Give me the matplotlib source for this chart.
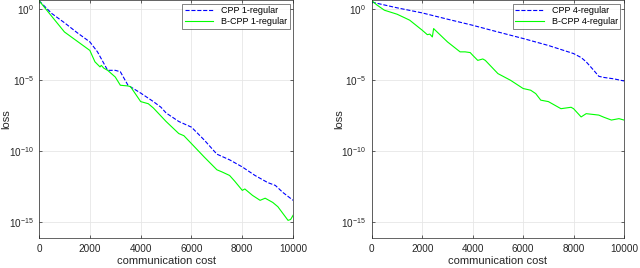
import matplotlib.pyplot as plt
import numpy as np

plt.rcParams['font.family'] = ['Liberation Sans', 'DejaVu Sans']
plt.rcParams['font.size'] = 7
plt.rcParams['mathtext.fontset'] = 'custom'
plt.rcParams['mathtext.rm'] = 'Liberation Sans'
plt.rcParams['mathtext.it'] = 'Liberation Sans'

# left panel: 1-regular (log10 of loss)
cpp1_x = [0, 500, 1000, 1500, 2000, 2300, 2700, 3000, 3200, 3500, 4000, 4500, 4800,
          5000, 5500, 6000, 6500, 7000, 7500, 8000, 8500, 9000, 9300, 9600, 10000]
cpp1_y = [0.6, -0.3, -0.95, -1.65, -2.3, -3.0, -4.3, -4.3, -4.4, -5.35, -5.9, -6.5, -6.9,
          -7.3, -7.9, -8.3, -9.2, -10.2, -10.6, -11.1, -11.7, -12.2, -12.4, -12.9, -13.45]
bcpp1_x = [0, 500, 1000, 1500, 2000, 2200, 2400, 2450, 2550, 2700, 3000, 3200, 3500,
           3600, 4000, 4300, 4500, 5000, 5500, 5700, 6000, 6500, 7000, 7200, 7500,
           7700, 8000, 8100, 8400, 8700, 8900, 9200, 9400, 9800, 9900, 10000]
bcpp1_y = [0.6, -0.5, -1.6, -2.25, -2.9, -3.7, -4.06, -3.95, -4.15, -4.3, -4.77, -5.35, -5.4,
           -5.45, -6.5, -6.65, -6.95, -7.9, -8.75, -8.9, -9.46, -10.4, -11.3, -11.45, -11.7,
           -12.1, -12.75, -12.65, -13.1, -13.45, -13.3, -13.6, -13.9, -14.86, -14.8, -14.5]

# right panel: 4-regular
cpp4_x = [0, 1000, 2000, 3000, 4000, 5000, 6000, 7000, 8000, 8300, 8500, 8800, 9000,
          9200, 9600, 10000]
cpp4_y = [0.5, 0.1, -0.26, -0.7, -1.13, -1.6, -2.06, -2.55, -3.12, -3.4, -3.7, -4.3, -4.72,
          -4.8, -4.9, -5.05]
bcpp4_x = [0, 200, 500, 1000, 1300, 1500, 2000, 2200, 2300, 2400, 2450, 2500, 3000,
           3500, 3700, 3900, 4000, 4200, 4400, 4500, 5000, 5500, 6000, 6300, 6500,
           6700, 7000, 7500, 7900, 8000, 8300, 8500, 9000, 9200, 9500, 9800, 10000]
bcpp4_y = [0.6, 0.3, -0.07, -0.35, -0.6, -0.77, -1.48, -1.79, -1.75, -1.95, -1.36, -1.45,
           -2.3, -3.0, -3.0, -3.05, -3.24, -3.6, -3.5, -3.6, -4.53, -5.0, -5.58, -5.7,
           -5.94, -6.4, -6.5, -7.0, -6.9, -7.0, -7.58, -7.35, -7.45, -7.6, -7.8, -7.7, -7.8]

panels = [
    (cpp1_x, cpp1_y, bcpp1_x, bcpp1_y, '1-regular', [0.061, 0.112, 0.397, 0.888]),
    (cpp4_x, cpp4_y, bcpp4_x, bcpp4_y, '4-regular', [0.581, 0.112, 0.394, 0.888]),
]

fig = plt.figure(figsize=(6.4, 2.68), dpi=100)
for cx, cy, bx, by, name, rect in panels:
    ax = fig.add_axes(rect)
    ax.plot(cx, 10.0 ** np.array(cy), '--', color='#0000ff', lw=0.8, label='CPP ' + name)
    ax.plot(bx, 10.0 ** np.array(by), '-', color='#00ff00', lw=0.8, label='B-CPP ' + name)
    ax.set_yscale('log')
    ax.set_xlim(0, 10000)
    ax.set_ylim(10 ** -16.1, 10 ** 0.65)
    ax.set_yticks([1e0, 1e-5, 1e-10, 1e-15])
    ax.set_yticklabels(['$10^{0}$', '$10^{-5}$', '$10^{-10}$', '$10^{-15}$'])
    ax.minorticks_off()
    ax.set_xticks([0, 2000, 4000, 6000, 8000, 10000])
    ax.grid(True, color='#e6e6e6', lw=0.6)
    ax.set_axisbelow(True)
    ax.tick_params(direction='in', length=2.5, width=0.5, colors='#262626',
                   top=True, right=True, labelsize=7.2, pad=4)
    for s in ax.spines.values():
        s.set_color('#262626')
        s.set_linewidth(0.5)
    ax.set_xlabel('communication cost', fontsize=8, color='#262626', labelpad=2)
    ax.set_ylabel('loss', fontsize=8, color='#262626')
    ax.yaxis.set_label_coords(-0.11, 0.5)
    leg = ax.legend(loc='upper right', fontsize=6.5, frameon=True, fancybox=False,
                    borderaxespad=0.4, handlelength=3.2, borderpad=0.3, labelspacing=0.2)
    leg.get_frame().set_edgecolor('#262626')
    leg.get_frame().set_linewidth(0.5)

fig.savefig('out.png', dpi=100)
